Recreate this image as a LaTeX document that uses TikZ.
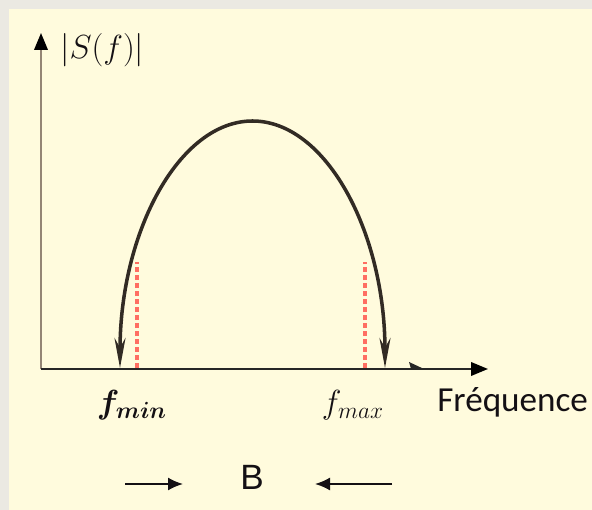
\RequirePackage{fix-cm}
\documentclass[tikz,border=0pt]{standalone}
\usepackage{amsmath}
\usepackage{fontspec}
\newfontfamily\calib{Carlito}
\newfontfamily\arialf{Liberation Sans}
\usepackage{tikz}
\usetikzlibrary{
  arrows.meta,
  positioning,
  calc
}
\definecolor{bgGray}{RGB}{235,233,226}
\definecolor{bgCream}{RGB}{255,251,221}
\definecolor{curveBrown}{RGB}{50,43,36}
\definecolor{borneRed}{RGB}{255,110,98}
\definecolor{txtDark}{RGB}{20,16,20}
\tikzset{
  axisline/.style={
    line width=1.2pt,
    draw=#1,
    -{Triangle[length=0.34cm,width=0.27cm,color=black]}
  },
  spectre/.style={
    line width=2pt,
    draw=curveBrown,
    {Stealth[length=0.6cm,width=0.22cm]}-{Stealth[length=0.6cm,width=0.22cm]}
  },
  borne/.style={
    draw=borneRed,
    line width=1.8pt,
    dash pattern=on 0.1cm off 0.06cm
  },
  bande/.style={
    line width=1pt,
    draw=txtDark,
    -{Latex[length=0.3cm,width=0.26cm]}
  },
  lbl/.style={inner sep=0pt, text=txtDark, font=\fontsize{19}{22}\selectfont}
}
\begin{document}
\begin{tikzpicture}[x=0.02cm, y=0.02cm]
  % fond
  \fill[bgGray] (0,0) rectangle (592,510);
  \fill[bgCream] (9,0) rectangle (592,501);
  \useasboundingbox (0,0) rectangle (592,510);

  % axes
  \coordinate (O) at (41,141);
  \coordinate (ytip) at (41,477);
  \coordinate (xtip) at (488,141);
  \draw[axisline=black!60!brown!60] (O) -- (ytip);
  \draw[axisline=black!85] (O) -- (xtip);
  \fill[black!85] (409,148) -- (424,141) -- (411,141) -- cycle;

  % spectre
  \coordinate (pied) at (120,142);
  \draw[spectre] (pied) arc[start angle=180, end angle=0, x radius=132.5, y radius=247];

  % bornes
  \coordinate (bmin) at (137,142);
  \coordinate (hmin) at (137,248);
  \coordinate (bmax) at (365,142);
  \coordinate (hmax) at (365,248);
  \draw[borne] (bmin) -- (hmin);
  \draw[borne] (bmax) -- (hmax);

  % textes
  \node[lbl, anchor=west] (Sf) at (60,460) {$|S(f)|$};
  \node[lbl] (fmin) at (132,105) {$\boldsymbol{f_{min}}$};
  \node[lbl] (fmax) at (353,105) {$f_{max}$};
  \node[lbl, anchor=west, font=\calib\fontsize{20}{22}\selectfont] (freq) at (437,108) {Fréquence};
  \node[lbl, font=\arialf\fontsize{20}{22}\selectfont] (B) at (252,33) {B};

  % largeur de bande
  \coordinate (bg) at (125,26);
  \coordinate (bgt) at (183,26);
  \coordinate (bd) at (392,26);
  \coordinate (bdt) at (315,26);
  \draw[bande] (bg) -- (bgt);
  \draw[bande] (bd) -- (bdt);
\end{tikzpicture}
\end{document}
